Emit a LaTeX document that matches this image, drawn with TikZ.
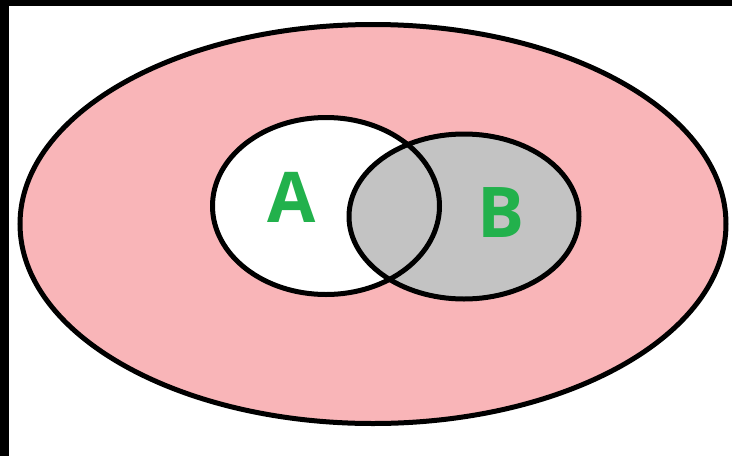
\documentclass[tikz,border=0pt]{standalone}
\usepackage{fontspec}
\setmainfont{Open Sans}
\definecolor{pinkfill}{HTML}{F9B5B8}
\definecolor{greyfill}{HTML}{C3C3C3}
\definecolor{labelgreen}{HTML}{22B14C}
\tikzset{
  setline/.style={draw=black, line width=5pt},
  setlabel/.style={text=labelgreen, font=\fontsize{70}{70}\selectfont\bfseries, inner sep=0pt}
}
\begin{document}
\begin{tikzpicture}[x=1pt,y=-1pt]
\useasboundingbox (0,0) rectangle (732,456);
\fill[white] (0,0) rectangle (732,456);
\fill[black] (0,0) rectangle (9,456);
\fill[black] (0,0) rectangle (732,6);
% fills
\fill[pinkfill] (373,224) ellipse [x radius=353, y radius=199.5];
\fill[white] (326,206) ellipse [x radius=113.5, y radius=88.5];
\fill[greyfill] (464,216.5) ellipse [x radius=115, y radius=82.5];
% outlines
\draw[setline] (373,224) ellipse [x radius=353, y radius=199.5];
\draw[setline] (326,206) ellipse [x radius=113.5, y radius=88.5];
\draw[setline] (464,216.5) ellipse [x radius=115, y radius=82.5];
% labels
\node[setlabel] (labelA) at (291.5,197) {A};
\node[setlabel] (labelB) at (501.5,213) {B};
\end{tikzpicture}
\end{document}
